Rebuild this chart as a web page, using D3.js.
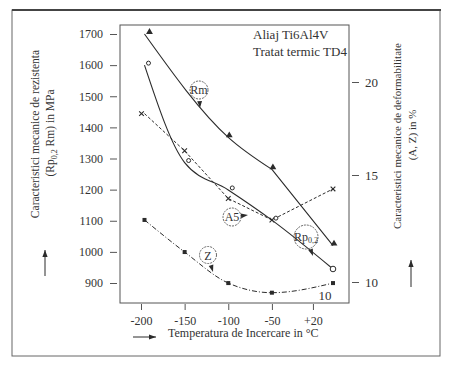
<!DOCTYPE html>
<html>
<head>
<meta charset="utf-8">
<script src="https://cdn.jsdelivr.net/npm/d3@7"></script>
<style>
  body { margin: 0; background: #fff; }
  svg, svg text { font-family: "Liberation Serif", "DejaVu Serif", serif; }
</style>
</head>
<body>
<svg id="chart" width="450" height="370"></svg>
<script>
// temperatures (°C)
const tempsRm = [-196, -100, -50, 20];
const tempsAll = [-196, -150, -100, -50, 20];

// strength, MPa (left axis)
const rmValues = [1700, 1368, 1265, 1020];
const rpValues = [1600, 1287, 1199, 1102, 945];

// deformability, % (right axis)
const a5Values = [18.3, 16.3, 13.9, 12.9, 14.35];
const zValues = [12.9, 11.4, 9.95, 9.5, 9.95];

const leftTicks = [900, 1000, 1100, 1200, 1300, 1400, 1500, 1600, 1700];
const rightTicks = [10, 15, 20];
const xTickValues = [-200, -150, -100, -50, -3];
const xTickLabels = ["-200", "-150", "-100", "-50", "+20"];

const svg = d3.select('#chart');
const ink = '#2b2b2b';
const txt = '#333';

// outer frame
svg.append('rect')
  .attr('x', 12).attr('y', 10).attr('width', 428).attr('height', 346)
  .attr('fill', 'none').attr('stroke', '#666').attr('stroke-width', 1);
svg.append('line')
  .attr('x1', 12).attr('x2', 441).attr('y1', 10).attr('y2', 10)
  .attr('stroke', '#444').attr('stroke-width', 2);

// plot frame
const frame = { left: 120, right: 349, top: 25, bottom: 303 };
svg.append('rect')
  .attr('x', frame.left).attr('y', frame.top)
  .attr('width', frame.right - frame.left).attr('height', frame.bottom - frame.top)
  .attr('fill', 'none').attr('stroke', '#555').attr('stroke-width', 1);

const x = d3.scaleLinear().domain([-200, 20]).range([141, 333]);
const yL = d3.scaleLinear().domain([900, 1700]).range([283, 34]);
const yR = d3.scaleLinear().domain([10, 15, 20]).range([282, 175, 82]);

function styleAxis(g, size) {
  g.select('.domain').remove();
  g.selectAll('line').attr('stroke', '#555');
  g.selectAll('text')
    .attr('font-size', size)
    .attr('font-family', 'Liberation Serif')
    .attr('fill', txt);
}

// left axis
svg.append('g')
  .attr('transform', 'translate(117,0)')
  .call(d3.axisLeft(yL).tickValues(leftTicks).tickFormat(d3.format('d')).tickSize(7).tickPadding(7))
  .call(g => styleAxis(g, 12));

// right axis
svg.append('g')
  .attr('transform', 'translate(352,0)')
  .call(d3.axisRight(yR).tickValues(rightTicks).tickFormat(d3.format('d')).tickSize(7).tickPadding(6))
  .call(g => styleAxis(g, 13));

// bottom axis
svg.append('g')
  .attr('transform', `translate(0,${frame.bottom + 1})`)
  .call(d3.axisBottom(x).tickValues(xTickValues)
    .tickFormat((d, i) => xTickLabels[i]).tickSize(6).tickPadding(6))
  .call(g => styleAxis(g, 12));

// axis titles
svg.append('text')
  .attr('transform', 'translate(39,134) rotate(-90)')
  .attr('text-anchor', 'middle').attr('font-size', 11.5).attr('fill', txt)
  .text('Caracteristici mecanice de rezistenta');
const leftSub = svg.append('text')
  .attr('transform', 'translate(54,133) rotate(-90)')
  .attr('text-anchor', 'middle').attr('font-size', 11.5).attr('fill', txt);
leftSub.append('tspan').text('(Rp');
leftSub.append('tspan').attr('font-size', 8).attr('dy', 3).text('0,2');
leftSub.append('tspan').attr('dy', -3).text(' Rm) in MPa');

svg.append('text')
  .attr('transform', 'translate(401,136) rotate(-90)')
  .attr('text-anchor', 'middle').attr('font-size', 11).attr('fill', txt)
  .text('Caracteristici mecanice de deformabilitate');
svg.append('text')
  .attr('transform', 'translate(416,135) rotate(-90)')
  .attr('text-anchor', 'middle').attr('font-size', 11).attr('fill', txt)
  .text('(A, Z) in %');

svg.append('text')
  .attr('x', 168).attr('y', 337).attr('font-size', 12).attr('fill', txt)
  .text('Temperatura de Incercare in °C');

// arrows beside titles
function arrow(x1, y1, x2, y2) {
  const ang = Math.atan2(y2 - y1, x2 - x1);
  const hl = 7, hw = 2.6;
  svg.append('line')
    .attr('x1', x1).attr('y1', y1).attr('x2', x2).attr('y2', y2)
    .attr('stroke', ink).attr('stroke-width', 1);
  const p = [
    [x2, y2],
    [x2 - hl * Math.cos(ang) + hw * Math.sin(ang), y2 - hl * Math.sin(ang) - hw * Math.cos(ang)],
    [x2 - hl * Math.cos(ang) - hw * Math.sin(ang), y2 - hl * Math.sin(ang) + hw * Math.cos(ang)]
  ];
  svg.append('path').attr('d', 'M' + p.join('L') + 'Z').attr('fill', ink);
}
arrow(45, 276, 45, 250);
arrow(411, 287, 411, 260);
arrow(133, 337, 156, 337);

// title
svg.append('text').attr('x', 253).attr('y', 39).attr('font-size', 13).attr('fill', txt).text('Aliaj Ti6Al4V');
svg.append('text').attr('x', 253).attr('y', 56).attr('font-size', 13).attr('fill', txt).text('Tratat termic TD4');

// series
const plot = svg.append('g');

// Rm: smooth down to -50, then straight to +20
const rmPts = rmValues.map((v, i) => [x(tempsRm[i]), yL(v)]);
const smooth = d3.line().curve(d3.curveMonotoneX);
const straight = d3.line();
plot.append('path').attr('d', smooth(rmPts.slice(0, 3)) + straight(rmPts.slice(2)))
  .attr('fill', 'none').attr('stroke', ink).attr('stroke-width', 1.1);

const lineRp = d3.line().x((d, i) => x(tempsAll[i])).y(d => yL(d)).curve(d3.curveMonotoneX);
const lineA5 = d3.line().x((d, i) => x(tempsAll[i])).y(d => yR(d));
const lineZ = d3.line().x((d, i) => x(tempsAll[i])).y(d => yR(d)).curve(d3.curveMonotoneX);

plot.append('path').attr('d', lineRp(rpValues))
  .attr('fill', 'none').attr('stroke', ink).attr('stroke-width', 1.1);
plot.append('path').attr('d', lineA5(a5Values))
  .attr('fill', 'none').attr('stroke', ink).attr('stroke-width', 1)
  .attr('stroke-dasharray', '3,2');
plot.append('path').attr('d', lineZ(zValues))
  .attr('fill', 'none').attr('stroke', ink).attr('stroke-width', 1)
  .attr('stroke-dasharray', '5,2,1,2');

// markers
const tri = d3.symbol().type(d3.symbolTriangle).size(20);
plot.selectAll('.rm').data(rmValues).enter().append('path')
  .attr('class', 'rm')
  .attr('transform', (d, i) => `translate(${x(tempsRm[i]) + (i === 0 ? 5 : 1)},${yL(d) - 2})`)
  .attr('d', tri).attr('fill', ink);

plot.selectAll('.rp').data(rpValues).enter().append('circle')
  .attr('class', 'rp')
  .attr('cx', (d, i) => x(tempsAll[i]) + (i === 4 ? 0 : 4))
  .attr('cy', (d, i) => yL(d) - (i === 4 ? 0 : 2))
  .attr('r', (d, i) => i === 4 ? 2.8 : 2)
  .attr('fill', '#fff').attr('stroke', ink).attr('stroke-width', 1);

const cross = d3.symbol().type(d3.symbolX).size(16);
plot.selectAll('.a5').data(a5Values).enter().append('path')
  .attr('class', 'a5')
  .attr('transform', (d, i) => `translate(${x(tempsAll[i]) - (i === 0 ? 3 : 0)},${yR(d)})`)
  .attr('d', cross).attr('fill', 'none').attr('stroke', ink).attr('stroke-width', 1.1);

plot.selectAll('.z').data(zValues).enter().append('rect')
  .attr('class', 'z')
  .attr('x', (d, i) => x(tempsAll[i]) - 2)
  .attr('y', d => yR(d) - 2)
  .attr('width', 4).attr('height', 4)
  .attr('fill', ink);

// circled labels with pointers
function tag(cx, cy, r, px, py) {
  svg.append('circle').attr('cx', cx).attr('cy', cy).attr('r', r)
    .attr('fill', 'none').attr('stroke', '#555').attr('stroke-width', 0.9)
    .attr('stroke-dasharray', '2,1');
  const ang = Math.atan2(py - cy, px - cx);
  const sx = px - 7 * Math.cos(ang), sy = py - 7 * Math.sin(ang);
  const hw = 2.4;
  svg.append('path')
    .attr('d', `M${px},${py}L${sx + hw * Math.sin(ang)},${sy - hw * Math.cos(ang)}L${sx - hw * Math.sin(ang)},${sy + hw * Math.cos(ang)}Z`)
    .attr('fill', ink);
}
tag(199, 90, 9, 200, 108);
svg.append('text').attr('x', 199).attr('y', 94).attr('text-anchor', 'middle').attr('font-size', 12).attr('fill', txt).text('Rm');

tag(232, 217, 9, 248, 215);
svg.append('text').attr('x', 232).attr('y', 221).attr('text-anchor', 'middle').attr('font-size', 12).attr('fill', txt).text('A5');

tag(306, 237, 12, 313, 256);
const rpTag = svg.append('text').attr('x', 306).attr('y', 241).attr('text-anchor', 'middle').attr('font-size', 12).attr('fill', txt);
rpTag.append('tspan').text('Rp');
rpTag.append('tspan').attr('font-size', 8).attr('dy', 2).text('0,2');

tag(208, 255, 8.5, 213, 272);
svg.append('text').attr('x', 208).attr('y', 259.5).attr('text-anchor', 'middle').attr('font-size', 12).attr('fill', txt).text('Z');

svg.append('text').attr('x', 325).attr('y', 300).attr('text-anchor', 'middle').attr('font-size', 13).attr('fill', txt).text('10');
</script>
</body>
</html>
